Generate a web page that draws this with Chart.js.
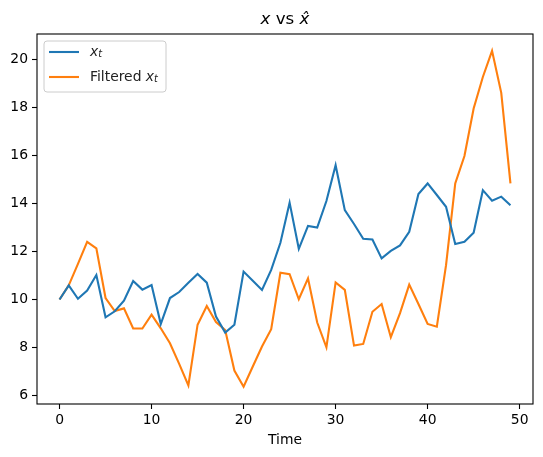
<!DOCTYPE html>
<html>
<head>
<meta charset="UTF-8">
<script src="https://cdn.jsdelivr.net/npm/chart.js"></script>
<style>
  html, body { margin: 0; padding: 0; background: #fff; }
  #wrap { width: 543px; height: 457px; }
</style>
</head>
<body>
<div id="wrap"><canvas id="chart" width="543" height="457"></canvas></div>
<script>
  // data
  const times = [0,1,2,3,4,5,6,7,8,9,10,11,12,13,14,15,16,17,18,19,20,21,22,23,24,25,26,27,28,29,30,31,32,33,34,35,36,37,38,39,40,41,42,43,44,45,46,47,48,49];
  const xt = [10.0,10.59,10.03,10.37,11.02,9.26,9.51,9.95,10.77,10.41,
              10.60,8.98,10.06,10.31,10.7,11.06,10.70,9.29,8.62,8.95,
              11.16,10.78,10.40,11.23,12.36,14.03,12.11,13.06,12.99,14.1,
              15.59,13.72,13.14,12.53,12.50,11.71,12.02,12.25,12.82,14.39,
              14.83,14.35,13.86,12.31,12.40,12.78,14.55,14.11,14.28,13.92];
  const filtered = [10.0,10.59,11.48,12.40,12.13,10.06,9.52,9.63,8.79,8.79,
                    9.37,8.80,8.18,7.32,6.42,8.95,9.73,9.06,8.73,7.04,
                    6.37,7.21,8.04,8.76,11.11,11.05,10.01,10.88,9.04,8.01,
                    10.71,10.40,8.08,8.15,9.49,9.81,8.43,9.43,10.62,9.81,
                    8.98,8.87,11.43,14.83,15.97,17.95,19.26,20.35,18.60,14.83];
  const xTicks = [0, 10, 20, 30, 40, 50];
  const yTicks = [6, 8, 10, 12, 14, 16, 18, 20];

  const FONT = 'DejaVu Sans';
  const toPoints = (ys) => times.map((t, i) => ({ x: t, y: ys[i] }));

  // draws "x" + optional subscript t, returns width
  function mathX(ctx, x, y, size, sub, hat) {
    ctx.font = 'italic ' + size + 'px ' + FONT;
    ctx.fillText(hat ? 'x\u0302' : 'x', x, y);
    let w = ctx.measureText('x').width;
    if (sub) {
      ctx.font = 'italic ' + (size * 0.7) + 'px ' + FONT;
      ctx.fillText('t', x + w, y + size * 0.2);
      w += ctx.measureText('t').width;
    }
    return w;
  }

  const decorations = {
    id: 'decorations',
    afterDraw(chart) {
      const ctx = chart.ctx;
      const a = chart.chartArea;
      ctx.save();
      // axes frame
      ctx.strokeStyle = '#000';
      ctx.lineWidth = 1.1;
      ctx.strokeRect(a.left, a.top, a.right - a.left, a.bottom - a.top);

      // title: x vs x-hat
      ctx.fillStyle = '#000';
      ctx.textBaseline = 'alphabetic';
      const ts = 16.7;
      ctx.font = ts + 'px ' + FONT;
      const vs = ' vs ';
      const vsW = ctx.measureText(vs).width;
      ctx.font = 'italic ' + ts + 'px ' + FONT;
      const xW = ctx.measureText('x').width;
      const total = xW * 2 + vsW;
      let tx = (a.left + a.right) / 2 - total / 2;
      const ty = 24;
      mathX(ctx, tx, ty, ts, false, false);
      tx += xW;
      ctx.font = ts + 'px ' + FONT;
      ctx.fillText(vs, tx, ty);
      tx += vsW;
      mathX(ctx, tx, ty, ts, false, true);

      // legend
      const lx = a.left + 7, ly = a.top + 7, lw = 122, lh = 51;
      ctx.beginPath();
      ctx.roundRect(lx, ly, lw, lh, 3);
      ctx.fillStyle = 'rgba(255,255,255,0.8)';
      ctx.fill();
      ctx.strokeStyle = '#cccccc';
      ctx.lineWidth = 1;
      ctx.stroke();
      const rows = [
        { color: '#1f77b4', pre: '' },
        { color: '#ff7f0e', pre: 'Filtered ' }
      ];
      const fs = 13.9;
      rows.forEach((r, i) => {
        const cy = ly + 11 + i * 25;
        ctx.strokeStyle = r.color;
        ctx.lineWidth = 2.1;
        ctx.beginPath();
        ctx.moveTo(lx + 5, cy);
        ctx.lineTo(lx + 35, cy);
        ctx.stroke();
        ctx.fillStyle = '#222';
        ctx.textBaseline = 'middle';
        let px = lx + 46;
        if (r.pre) {
          ctx.font = fs + 'px ' + FONT;
          ctx.fillText(r.pre, px, cy);
          px += ctx.measureText(r.pre).width;
        }
        mathX(ctx, px, cy, fs, true, false);
      });
      ctx.restore();
    }
  };

  new Chart(document.getElementById('chart'), {
    type: 'line',
    data: {
      datasets: [
        { label: 'x_t', data: toPoints(xt), borderColor: '#1f77b4', borderWidth: 2.1 },
        { label: 'Filtered x_t', data: toPoints(filtered), borderColor: '#ff7f0e', borderWidth: 2.1 }
      ]
    },
    options: {
      responsive: false,
      animation: false,
      elements: { point: { radius: 0 }, line: { tension: 0 } },
      layout: { padding: { left: 0, top: 34, right: 10, bottom: 0 } },
      plugins: { legend: { display: false }, title: { display: false }, tooltip: { enabled: false } },
      scales: {
        x: {
          type: 'linear',
          min: -2.45, max: 51.45,
          afterBuildTicks: (s) => { s.ticks = xTicks.map(v => ({ value: v })); },
          afterFit: (s) => { s.height = 53; },
          grid: { drawOnChartArea: false, drawTicks: true, tickLength: 5, color: '#000', tickWidth: 1.1 },
          border: { display: false },
          ticks: { color: '#000', font: { family: FONT, size: 13.9 }, padding: 3, maxRotation: 0 },
          title: { display: true, text: 'Time', color: '#000', font: { family: FONT, size: 13.9 }, padding: { top: 0, bottom: 8 } }
        },
        y: {
          min: 5.65, max: 21.05,
          afterBuildTicks: (s) => { s.ticks = yTicks.map(v => ({ value: v })); },
          afterFit: (s) => { s.width = 37; },
          grid: { drawOnChartArea: false, drawTicks: true, tickLength: 5, color: '#000', tickWidth: 1.1 },
          border: { display: false },
          ticks: { color: '#000', font: { family: FONT, size: 13.9 }, padding: 4 }
        }
      }
    },
    plugins: [decorations]
  });
</script>
</body>
</html>
